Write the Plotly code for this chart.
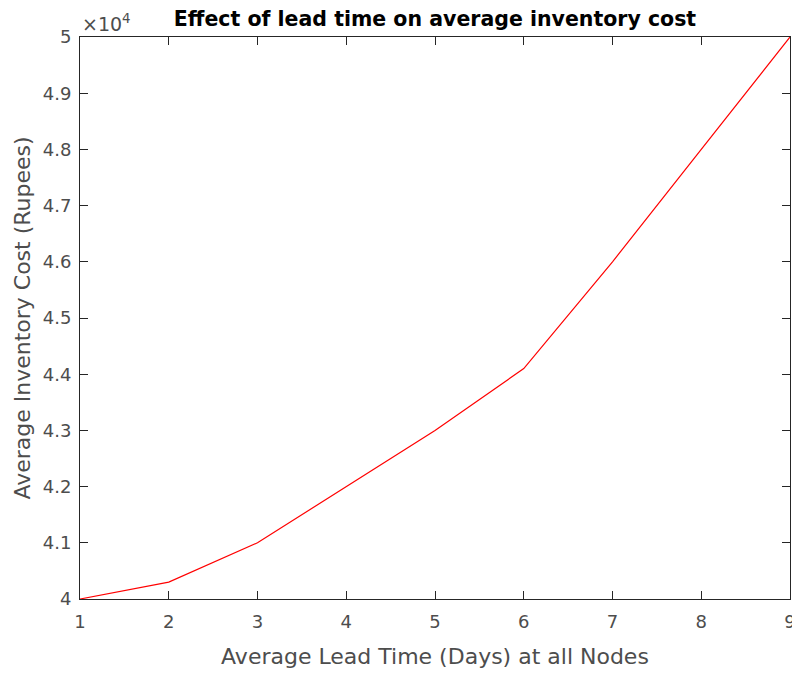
import plotly.graph_objects as go

lead_time = [1, 2, 3, 4, 5, 6, 7, 8, 9]
inventory_cost = [40000, 40300, 41000, 42000, 43000, 44100, 46000, 48000, 50000]

y_tickvals = [40000, 41000, 42000, 43000, 44000, 45000, 46000, 47000, 48000, 49000, 50000]
y_ticktext = ["4", "4.1", "4.2", "4.3", "4.4", "4.5", "4.6", "4.7", "4.8", "4.9", "5"]
x_tickvals = [1, 2, 3, 4, 5, 6, 7, 8, 9]

FONT = "DejaVu Sans"

fig = go.Figure()
fig.add_trace(go.Scatter(x=lead_time, y=inventory_cost, mode="lines",
                         line=dict(color="#ff0000", width=1.2), showlegend=False))

axis_common = dict(showgrid=False, zeroline=False, showline=True, linecolor="#262626",
                   linewidth=1, mirror="ticks", ticks="inside", ticklen=8, tickcolor="#262626",
                   automargin=False,
                   tickfont=dict(family=FONT, size=18, color="#4d4d4d"))

# page body has an 8px default margin, so the figure is sized to fit 800x674 from (8,8)
fig.update_layout(
    width=792, height=666,
    paper_bgcolor="white", plot_bgcolor="white",
    margin=dict(l=72, r=10, t=29, b=75, autoexpand=False),
    title=dict(text="<b>Effect of lead time on average inventory cost</b>",
               x=(435 - 8) / 792, xanchor="center", y=1 - 11 / 666, yanchor="middle",
               font=dict(family=FONT, size=20.5, color="#000000")),
    xaxis=dict(range=[1, 9], tickvals=x_tickvals, ticklabelstandoff=6,
               title=dict(text="Average Lead Time (Days) at all Nodes", standoff=18,
                          font=dict(family=FONT, size=22, color="#4d4d4d")),
               **axis_common),
    yaxis=dict(range=[40000, 50000], tickvals=y_tickvals, ticktext=y_ticktext,
               ticklabelstandoff=4,
               title=dict(text="Average Inventory Cost (Rupees)", standoff=6,
                          font=dict(family=FONT, size=22, color="#4d4d4d")),
               **axis_common),
    annotations=[dict(text="×10<sup>4</sup>", xref="paper", yref="paper", x=0, y=1,
                      xanchor="left", yanchor="bottom", showarrow=False, yshift=0, xshift=0,
                      font=dict(family=FONT, size=19, color="#4d4d4d"))],
)

fig.write_html("out.html")
